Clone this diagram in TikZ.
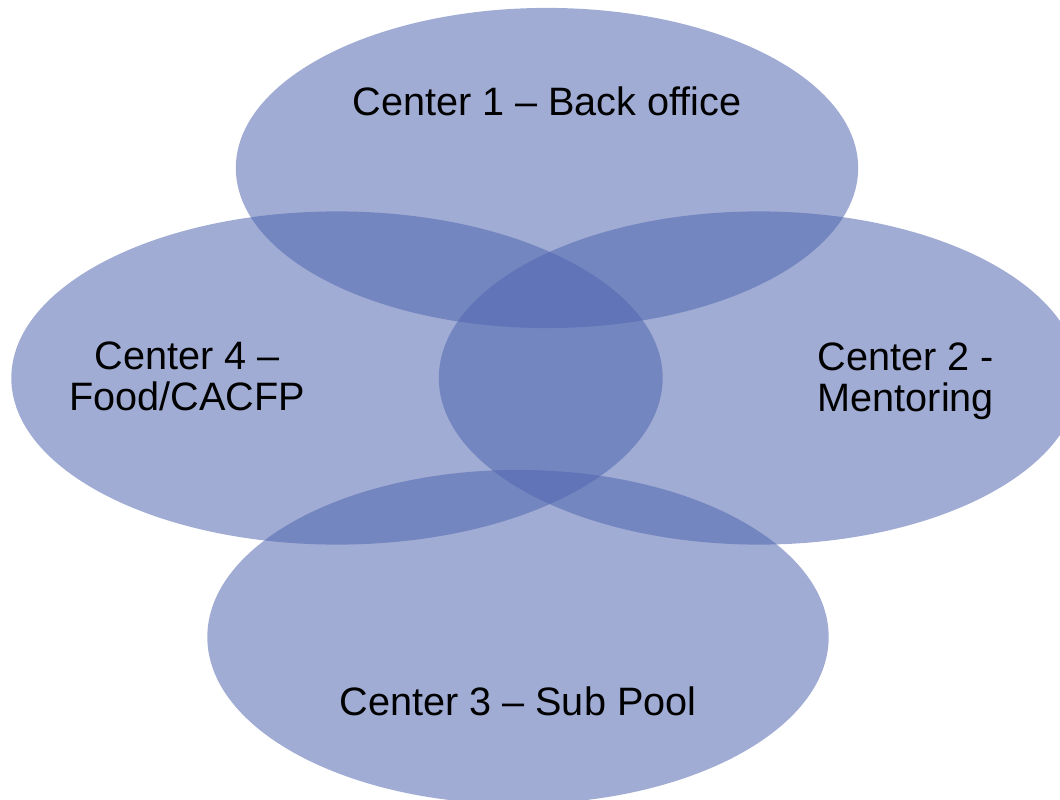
\documentclass[tikz,border=0pt]{standalone}
\usepackage{fontspec}
\setmainfont{Liberation Sans}
\usetikzlibrary{shapes.geometric}
\definecolor{discblue}{RGB}{79,101,175}
\tikzset{
  disc/.style={ellipse, fill=discblue, fill opacity=0.54, inner sep=0pt, outer sep=0pt},
  centertext/.style={text=black, inner sep=0pt, font=\fontsize{11.27}{11.66}\selectfont}
}
\newcommand{\CenterDisc}[4]{\node[disc, minimum width=#3, minimum height=#4] (#1) at #2 {};}

\begin{document}
\begin{tikzpicture}[x=0.01cm, y=-0.01cm]
\useasboundingbox (0,0) rectangle (1060,800);

	\CenterDisc{C1}{(547,168)}{6.22cm}{3.20cm}
	\CenterDisc{C2}{(759,378)}{6.40cm}{3.33cm}
	\CenterDisc{C3}{(518,637)}{6.21cm}{3.34cm}
	\CenterDisc{C4}{(337,378)}{6.51cm}{3.33cm}

	\node[centertext, anchor=base] (T1) at (547,115) {Center 1 – Back office};
	\node[centertext, anchor=base west, align=left] (T2) at (817,411) {Center 2 -\\Mentoring};
	\node[centertext, anchor=base] (T3) at (518,715) {Center 3 – Sub Pool};
	\node[centertext, anchor=base, align=center] (T4) at (187,410) {Center 4 –\\Food/CACFP};

\end{tikzpicture}
\end{document}
